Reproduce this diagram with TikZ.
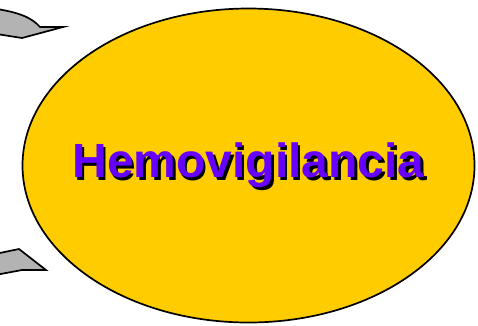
\documentclass[tikz,border=0pt]{standalone}
\usepackage{fontspec}
\setmainfont{Liberation Sans}
\usetikzlibrary{shapes.geometric}
\definecolor{hemoyellow}{HTML}{FFCC00}
\definecolor{hemopurple}{HTML}{6600FF}
\definecolor{arrowgray}{HTML}{B3B3B3}
\begin{document}
\begin{tikzpicture}[x=1pt, y=-1pt,
  bubble/.style={draw, ellipse, line width=1.7pt, fill=hemoyellow,
    minimum width=452pt, minimum height=314pt, inner sep=0pt},
  title/.style={font=\fontsize{48}{50}\selectfont\bfseries, inner sep=0pt},
  pointer/.style={draw, line width=1.7pt, fill=arrowgray, line join=miter}
]
\useasboundingbox (0,0) rectangle (478,325);
% the two grey pointers, cut by the left edge
\draw[pointer] (-10,8) .. controls (20,12) and (32,18) .. (40,27)
  -- (63,27) -- (22,38) -- (-10,33);
\draw[pointer] (-10,255) -- (19,249) -- (46,270) -- (22,270) -- (-10,276);
% the main bubble
\node[bubble] (hemo) at (248.5,165.5) {};
\node[title, text=black] (shadow) at ([xshift=2.5pt, yshift=-2.5pt]hemo) {Hemovigilancia};
\node[title, text=hemopurple] (label) at (hemo) {Hemovigilancia};
\end{tikzpicture}
\end{document}
